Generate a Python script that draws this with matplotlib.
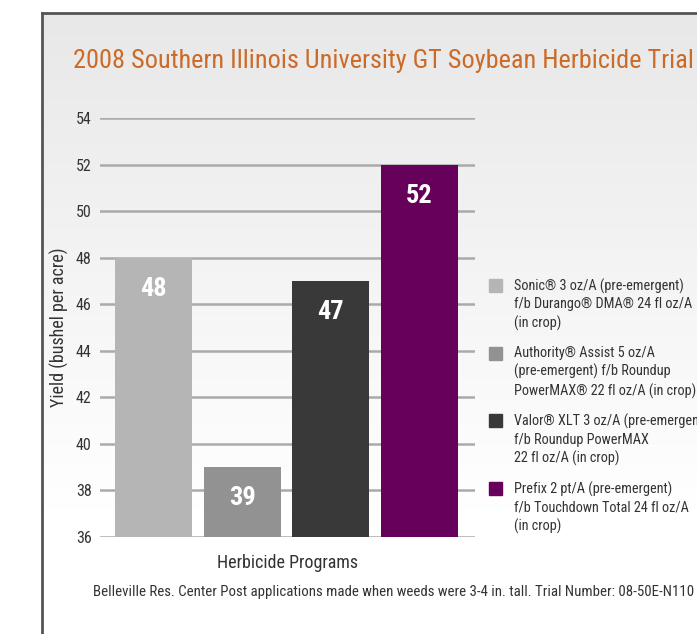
import matplotlib
matplotlib.use("Agg")
import matplotlib.pyplot as plt
import numpy as np
from matplotlib import font_manager as fm

# ---------------- data ----------------
title = "2008 Southern Illinois University GT Soybean Herbicide Trial"
programs = [
    "Sonic® 3 oz/A (pre-emergent)\nf/b Durango® DMA® 24 fl oz/A\n(in crop)",
    "Authority® Assist 5 oz/A\n(pre-emergent) f/b Roundup\nPowerMAX® 22 fl oz/A (in crop)",
    "Valor® XLT 3 oz/A (pre-emergent)\nf/b Roundup PowerMAX\n22 fl oz/A (in crop)",
    "Prefix 2 pt/A (pre-emergent)\nf/b Touchdown Total 24 fl oz/A\n(in crop)",
]
yields = [48, 39, 47, 52]
colors = ["#b5b5b5", "#929292", "#393939", "#66005a"]
y_ticks = [36, 38, 40, 42, 44, 46, 48, 50, 52, 54]
y_label = "Yield (bushel per acre)"
x_label = "Herbicide Programs"
footer = ("Belleville Res. Center Post applications made when weeds were 3-4 in. tall. "
          "Trial Number: 08-50E-N110")

# ---------------- fonts ----------------
avail = {f.name for f in fm.fontManager.ttflist}
def pick(*cands):
    for c in cands:
        if c in avail:
            return c
    return "DejaVu Sans"
FONT = pick("Roboto Condensed", "Archivo Narrow", "PT Sans Narrow", "Liberation Sans Narrow", "DejaVu Sans")
FONTB = pick("Roboto Condensed", "PT Sans Narrow", "Archivo Narrow", "DejaVu Sans")
plt.rcParams["font.family"] = [FONT, "DejaVu Sans"]

W, H = 697, 634
fig = plt.figure(figsize=(W / 100, H / 100), dpi=100)

# background panel with gradient and border
bg = fig.add_axes([0, 0, 1, 1])
bg.axis("off")
grad = np.linspace(0, 1, 256)
top_c = np.array([0.91, 0.91, 0.91])
bot_c = np.array([1.0, 1.0, 1.0])
t = np.clip(grad * 1.25, 0, 1)[:, None]
img = (top_c + (bot_c - top_c) * t).reshape(256, 1, 3)
bg.imshow(img, extent=[42, W, H, 13], aspect="auto", zorder=0)
bg.plot([42, 42], [H, 13], color="#555555", lw=2.0, zorder=2, solid_capstyle="projecting")
bg.plot([42, W], [13, 13], color="#555555", lw=2.0, zorder=2, solid_capstyle="projecting")
bg.set_xlim(0, W)
bg.set_ylim(H, 0)

# ---------------- main axes ----------------
ax = fig.add_axes([100 / W, 1 - 537 / H, 375 / W, (537 - 118) / H])
ax.set_facecolor("none")
x = np.arange(len(yields))
ax.bar(x, [v - 36 for v in yields], bottom=36, width=0.868, color=colors, zorder=3)
ax.set_xlim(-0.603, 3.626)
ax.set_ylim(36, 54)
ax.set_yticks(y_ticks)
ax.set_yticklabels([str(t) for t in y_ticks], fontsize=11.5, color="#333333")
ax.tick_params(axis="y", length=0, pad=6)
ax.set_xticks([])
ax.grid(axis="y", color="#aaaaaa", lw=1.8, zorder=1)
for s in ax.spines.values():
    s.set_visible(False)

for xi, v in zip(x, yields):
    ax.annotate(str(v), (xi, v), xytext=(0, -22.5), textcoords="offset points",
                ha="center", va="center", color="white", fontsize=19,
                fontweight="bold", family=[FONTB, "DejaVu Sans"], zorder=4)

ax.set_ylabel(y_label, fontsize=13, color="#333333", labelpad=5)
ax.set_xlabel(x_label, fontsize=13, color="#333333", labelpad=12)

# title / footer
fig.text(73 / W, 1 - 61 / H, title, fontsize=18.9, color="#cc6a28", ha="left", va="center")
fig.text(93 / W, 1 - 592 / H, footer, fontsize=10.7, color="#333333", ha="left", va="center")

# legend (manual)
leg_y0 = 285.5
leg_dy = 67.7
for i, (lab, c) in enumerate(zip(programs, colors)):
    yc = leg_y0 + i * leg_dy
    bg.add_patch(plt.Rectangle((489, yc - 6.5), 13, 13, color=c, zorder=3))
    bg.text(514, yc - 7, lab, fontsize=10.3, color="#333333", ha="left", va="top",
            linespacing=1.33, zorder=3)

fig.savefig("out.png", dpi=100)
